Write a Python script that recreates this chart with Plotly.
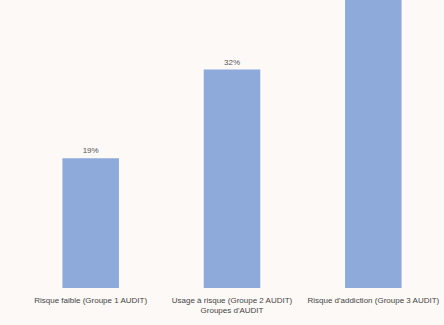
import plotly.graph_objects as go

# Répartition des participants par groupe AUDIT
categories = [
    "Risque faible (Groupe 1 AUDIT)",
    "Usage à risque (Groupe 2 AUDIT)",
    "Risque d'addiction (Groupe 3 AUDIT)",
]
percentages = [19, 32, 49]

y_max = 42.2
# Labels only for bars whose top stays inside the visible range
labels = [f"{v}%" if v < y_max - 2 else "" for v in percentages]

fig = go.Figure(
    go.Bar(
        x=categories,
        y=percentages,
        text=labels,
        textposition="outside",
        cliponaxis=True,
        marker=dict(color="#8eaadb", line=dict(width=0)),
        textfont=dict(size=8, color="#555555", family="Liberation Sans"),
        width=0.4,
    )
)

fig.update_layout(
    width=444,
    height=325,
    margin=dict(l=20, r=0, t=0, b=37),
    paper_bgcolor="#fdf9f6",
    plot_bgcolor="#fdf9f6",
    showlegend=False,
    font=dict(family="Liberation Sans", size=8, color="#444444"),
    xaxis=dict(
        title=dict(text="Groupes d'AUDIT", font=dict(size=8, color="#444444"), standoff=3),
        showgrid=False,
        zeroline=False,
        showline=False,
        ticks="outside",
        ticklen=4,
        tickcolor="rgba(0,0,0,0)",
        tickfont=dict(size=8, color="#444444"),
    ),
    yaxis=dict(
        range=[0, y_max],
        visible=False,
        showgrid=False,
        zeroline=False,
    ),
)

fig.write_html("out.html")
